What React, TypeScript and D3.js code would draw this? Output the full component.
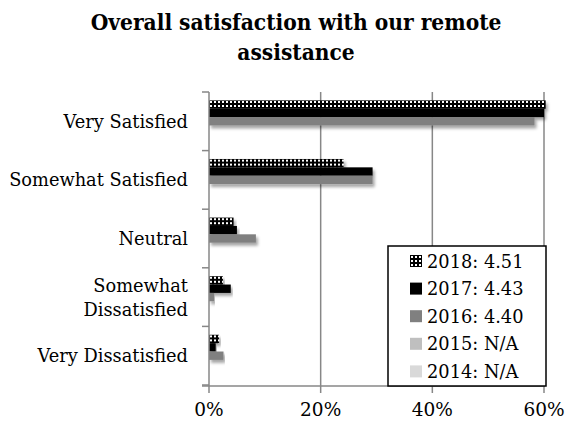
import React from "react";
import * as d3 from "d3";

const categories = ["Very Satisfied", "Somewhat Satisfied", "Neutral", "Somewhat Dissatisfied", "Very Dissatisfied"];
const categoryLines = [["Very Satisfied"], ["Somewhat Satisfied"], ["Neutral"], ["Somewhat", "Dissatisfied"], ["Very Dissatisfied"]];
const seriesNames = ["2018", "2017", "2016", "2015", "2014"];
const legendLabels = ["2018: 4.51", "2017: 4.43", "2016: 4.40", "2015: N/A", "2014: N/A"];
const values2018 = [0.603, 0.241, 0.044, 0.025, 0.018];
const values2017 = [0.6, 0.293, 0.05, 0.039, 0.012];
const values2016 = [0.583, 0.293, 0.084, 0.009, 0.026];
const values2015 = [0, 0, 0, 0, 0];
const values2014 = [0, 0, 0, 0, 0];
const xTicks = [0, 0.2, 0.4, 0.6];
const titleLines = ["Overall satisfaction with our remote", "assistance"];

const seriesValues = [values2018, values2017, values2016, values2015, values2014];
const fills = ["url(#dots2018)", "#000000", "#808080", "#bfbfbf", "#d9d9d9"];

const FONT = "'DejaVu Serif', serif";
const TITLE_FONT = "'DejaVu Serif Condensed', 'DejaVu Serif', serif";

export default function App() {
  const W = 565, H = 426;
  const x = d3.scaleLinear().domain([0, 0.6]).range([209, 544]);
  const y0 = d3.scaleBand<string>().domain(categories).range([92, 385]).paddingInner(0).paddingOuter(0);
  const y1 = d3.scaleBand<string>().domain(seriesNames).range([0, y0.bandwidth()]).paddingInner(0).paddingOuter(1);
  const grid = "#878787";
  const boundaries = d3.range(categories.length + 1).map((i) => 92 + i * y0.step());

  const legendX = 388, legendY = 246, legendW = 158, legendH = 140;
  const rowH = 27.6;

  return (
    <svg width={W} height={H} style={{ position: "absolute", left: 0, top: 0, background: "#fff" }}>
      <defs>
        <pattern id="dots2018" width={4} height={4} patternUnits="userSpaceOnUse" x={209} y={0}>
          <rect width={4} height={4} fill="#000" />
          <rect x={1} y={1} width={2} height={2} fill="#fff" />
        </pattern>
        <pattern id="dotsLegend" width={4} height={4} patternUnits="userSpaceOnUse" x={410} y={255}>
          <rect width={4} height={4} fill="#000" />
          <rect x={1} y={1} width={2} height={2} fill="#fff" />
        </pattern>
        <filter id="shadow" x="-5%" y="-50%" width="115%" height="250%">
          <feDropShadow dx={2} dy={3} stdDeviation={1.5} floodColor="#000" floodOpacity={0.35} />
        </filter>
      </defs>
      <rect width={W} height={H} fill="#fff" />
      {titleLines.map((t, i) => (
        <text key={t} x={296} y={30 + i * 29.5} textAnchor="middle" fontFamily={TITLE_FONT} fontStretch="condensed" fontWeight="bold" fontSize={22.5} fill="#000">
          {t}
        </text>
      ))}
      {xTicks.slice(1).map((t) => (
        <line key={t} x1={x(t)} x2={x(t)} y1={92} y2={386} stroke={grid} strokeWidth={1.5} />
      ))}
      {categories.map((c, ci) => (
        <g key={c} transform={`translate(0,${y0(c)})`}>
          {seriesNames.map((s, si) => {
            const v = seriesValues[si][ci];
            if (v <= 0) return null;
            return (
              <rect key={s} x={x(0)} y={y1(s)} width={x(v) - x(0)} height={y1.bandwidth()} fill={fills[si]} filter="url(#shadow)" />
            );
          })}
        </g>
      ))}
      <line x1={209} x2={209} y1={92} y2={386} stroke={grid} strokeWidth={1.5} />
      {boundaries.map((b, i) => (
        <line key={i} x1={202} x2={209} y1={b} y2={b} stroke={grid} strokeWidth={1.5} />
      ))}
      <line x1={202} x2={545} y1={386} y2={386} stroke={grid} strokeWidth={1.5} />
      {xTicks.map((t) => (
        <line key={t} x1={x(t)} x2={x(t)} y1={386} y2={393} stroke={grid} strokeWidth={1.5} />
      ))}
      {xTicks.map((t) => (
        <text key={t} x={x(t)} y={416} textAnchor="middle" fontFamily={FONT} fontSize={18.5} fill="#000">
          {d3.format(".0%")(t)}
        </text>
      ))}
      {categories.map((c, ci) => {
        const lines = categoryLines[ci];
        const cy = (y0(c) as number) + y0.bandwidth() / 2;
        const lh = 24;
        return lines.map((l, li) => (
          <text key={c + li} x={188} y={cy + 6.5 + (li - (lines.length - 1) / 2) * lh} textAnchor="end" fontFamily={FONT} fontSize={17.8} fill="#000">
            {l}
          </text>
        ));
      })}
      <rect x={legendX} y={legendY} width={legendW} height={legendH} fill="#fff" stroke="#000" strokeWidth={1.5} />
      {legendLabels.map((l, i) => {
        const cy = 261 + i * rowH;
        return (
          <g key={l}>
            <rect x={410} y={cy - 6} width={12} height={12} fill={i === 0 ? "url(#dotsLegend)" : fills[i]} />
            <text x={427} y={cy + 6.5} fontFamily={FONT} fontSize={17.8} fill="#000">
              {l}
            </text>
          </g>
        );
      })}
    </svg>
  );
}
